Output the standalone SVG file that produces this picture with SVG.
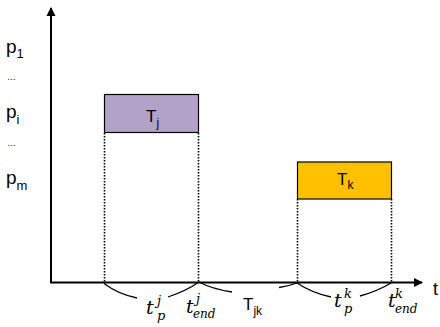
<svg xmlns="http://www.w3.org/2000/svg" width="440" height="327" viewBox="0 0 440 327">
<defs>
<style>
.axis{stroke:#000;stroke-width:2;fill:none}
.dot{stroke:#000;stroke-width:1.6;stroke-dasharray:1.6 1.4;fill:none}
.brace{stroke:#000;stroke-width:1.3;fill:none}
.box{stroke:#000;stroke-width:1.2}
.sans{font-family:"Liberation Sans",Arial,sans-serif;fill:#000}
.math{font-family:"DejaVu Serif","Liberation Serif",serif;font-style:italic;fill:#000}
</style>
<marker id="arr" markerWidth="10" markerHeight="10" refX="8" refY="5" orient="auto" markerUnits="userSpaceOnUse">
<path d="M0,0.5 L9,5 L0,9.5 Z" fill="#000"/>
</marker>
</defs>
<rect width="440" height="327" fill="#fff"/>
<g id="axes">
<path class="axis" d="M51,283 L51,8" marker-end="url(#arr)"/>
<path class="axis" d="M50,282.5 L422,282.5" marker-end="url(#arr)"/>
<text class="sans" x="433" y="295" font-size="18">t</text>
</g>
<g id="labels-y">
<text class="sans" x="6" y="53" font-size="19">p<tspan font-size="13" dy="5">1</tspan></text>
<text class="sans" x="7" y="80" font-size="9">…</text>
<text class="sans" x="6" y="118" font-size="19">p<tspan font-size="13" dy="6">i</tspan></text>
<text class="sans" x="7" y="146" font-size="9">…</text>
<text class="sans" x="6" y="184" font-size="19">p<tspan font-size="13" dy="6">m</tspan></text>
</g>
<g id="connectors">
<path class="dot" d="M104.5,133 L104.5,282"/>
<path class="dot" d="M198.5,133 L198.5,282"/>
<path class="dot" d="M297.5,199 L297.5,282"/>
<path class="dot" d="M391.5,199 L391.5,282"/>
<path class="brace" d="M104,283.5 Q118,294 137,298"/>
<path class="brace" d="M168,297 Q186,291 199,282"/>
<path class="brace" d="M199,282 Q212,289 232,292"/>
<path class="brace" d="M279,287.5 Q289,286 297,283"/>
<path class="brace" d="M297,283 Q312,293 331,297"/>
<path class="brace" d="M360,296 Q378,291 391,283"/>
</g>
<g id="Tj">
<rect class="box" x="104.5" y="94.5" width="94" height="38" fill="#B3A2C7"/>
<text class="sans" x="146" y="122" font-size="17">T<tspan font-size="12" dy="5">j</tspan></text>
</g>
<g id="Tk">
<rect class="box" x="297.5" y="162" width="94" height="37" fill="#FFC000"/>
<text class="sans" x="337" y="185" font-size="17">T<tspan font-size="12" dy="4">k</tspan></text>
</g>
<g id="time-labels">
<text class="math" x="146" y="314" font-size="19">t</text>
<text class="math" x="157" y="320" font-size="13">p</text>
<text class="math" x="157" y="305" font-size="13">j</text>
<text class="math" x="186" y="313" font-size="19">t</text>
<text class="math" x="193" y="318" font-size="12">end</text>
<text class="math" x="196" y="303" font-size="13">j</text>
<text class="sans" x="243" y="310" font-size="17">T<tspan font-size="12" dy="5">jk</tspan></text>
<text class="math" x="334" y="307" font-size="19">t</text>
<text class="math" x="344" y="313" font-size="13">p</text>
<text class="math" x="344" y="298" font-size="13">k</text>
<text class="math" x="388" y="307" font-size="19">t</text>
<text class="math" x="395" y="313" font-size="12">end</text>
<text class="math" x="395" y="298" font-size="13">k</text>
</g>
</svg>
